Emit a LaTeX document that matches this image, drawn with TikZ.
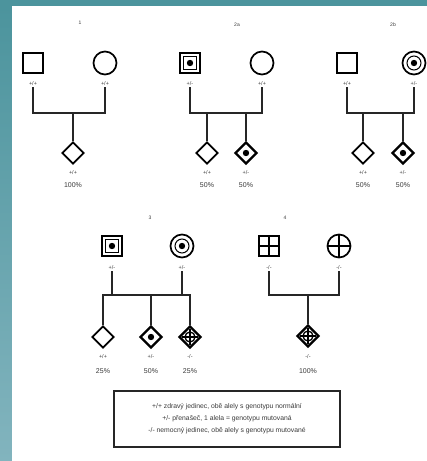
\documentclass[tikz,border=0pt]{standalone}
\usepackage{fontspec}
\setmainfont{Liberation Sans}
\usetikzlibrary{shapes.geometric}
\definecolor{tealbg}{HTML}{4C949D}
\definecolor{tealbot}{HTML}{82B4BE}
\definecolor{txt}{HTML}{3A3A3A}
\tikzset{
  sym/.style={draw=black, line width=1.7pt, fill=white, inner sep=0pt},
  sq/.style={sym, rectangle, minimum size=20pt},
  ci/.style={sym, circle, minimum size=23pt},
  dm/.style={sym, diamond, minimum size=22pt},
  dotc/.style={path picture={\fill[black] (path picture bounding box.center) circle (3.2pt);}},
  carsq/.style={path picture={\draw[line width=1pt] ([shift={(3.5pt,3.5pt)}]path picture bounding box.south west) rectangle ([shift={(-3.5pt,-3.5pt)}]path picture bounding box.north east); \fill[black] (path picture bounding box.center) circle (3.2pt);}},
  carci/.style={path picture={\draw[line width=1pt] (path picture bounding box.center) circle (7pt); \fill[black] (path picture bounding box.center) circle (3.2pt);}},
  crossc/.style={path picture={\draw[line width=1.5pt] (path picture bounding box.north) -- (path picture bounding box.south) (path picture bounding box.west) -- (path picture bounding box.east);}},
  crossd/.style={path picture={\draw[line width=1.5pt] ([yshift=-3pt]path picture bounding box.north) -- ([yshift=3pt]path picture bounding box.south) ([xshift=3pt]path picture bounding box.west) -- ([xshift=-3pt]path picture bounding box.east); \draw[line width=1.3pt] (path picture bounding box.center) circle (5pt);}},
  gt/.style={font=\fontsize{5.5}{6}\selectfont, text=txt, inner sep=1pt},
  pc/.style={font=\fontsize{7}{8}\selectfont, text=txt, inner sep=1pt},
  lbl/.style={font=\fontsize{5}{6}\selectfont, text=txt},
  ln/.style={line width=2pt, black!85},
}
\begin{document}
\begin{tikzpicture}[x=1pt,y=-1pt]
\useasboundingbox (0,0) rectangle (427,461);
\fill[tealbg] (0,0) rectangle (427,461);
\shade[top color=tealbg, bottom color=tealbot] (0,6) rectangle (12,461);
\fill[white] (12,6) rectangle (427,461);

% ---------- panel 1
\node[lbl] (l1) at (80,23) {1};
\node[sq] (p1f) at (33,63) {};
\node[ci] (p1m) at (105,63) {};
\node[gt] (p1fg) at (33,84) {+/+};
\node[gt] (p1mg) at (105,84) {+/+};
\coordinate (p1a) at (33,113);
\coordinate (p1b) at (105,113);
\coordinate (p1c) at (73,113);
\node[dm] (p1k) at (73,153) {};
\node[gt] (p1kg) at (73,173) {+/+};
\node[pc] (p1kp) at (73,185) {100\%};
\draw[ln] (p1fg) -- (p1a) -- (p1b) -- (p1mg);
\draw[ln] (p1c) -- (p1k);

% ---------- panel 2a
\node[lbl] (l2a) at (237,25) {2a};
\node[sq, carsq] (p2f) at (190,63) {};
\node[ci] (p2m) at (262,63) {};
\node[gt] (p2fg) at (190,84) {+/-};
\node[gt] (p2mg) at (262,84) {+/+};
\coordinate (p2a) at (190,113);
\coordinate (p2b) at (262,113);
\coordinate (p2c) at (207,113);
\coordinate (p2d) at (246,113);
\node[dm] (p2k1) at (207,153) {};
\node[dm, dotc, line width=2.3pt] (p2k2) at (246,153) {};
\node[gt] (p2k1g) at (207,173) {+/+};
\node[gt] (p2k2g) at (246,173) {+/-};
\node[pc] (p2k1p) at (207,185) {50\%};
\node[pc] (p2k2p) at (246,185) {50\%};
\draw[ln] (p2fg) -- (p2a) -- (p2b) -- (p2mg);
\draw[ln] (p2c) -- (p2k1);
\draw[ln] (p2d) -- (p2k2);

% ---------- panel 2b
\node[lbl] (l2b) at (393,25) {2b};
\node[sq] (p3f) at (347,63) {};
\node[ci, carci] (p3m) at (414,63) {};
\node[gt] (p3fg) at (347,84) {+/+};
\node[gt] (p3mg) at (414,84) {+/-};
\coordinate (p3a) at (347,113);
\coordinate (p3b) at (414,113);
\coordinate (p3c) at (363,113);
\coordinate (p3d) at (403,113);
\node[dm] (p3k1) at (363,153) {};
\node[dm, dotc, line width=2.3pt] (p3k2) at (403,153) {};
\node[gt] (p3k1g) at (363,173) {+/+};
\node[gt] (p3k2g) at (403,173) {+/-};
\node[pc] (p3k1p) at (363,185) {50\%};
\node[pc] (p3k2p) at (403,185) {50\%};
\draw[ln] (p3fg) -- (p3a) -- (p3b) -- (p3mg);
\draw[ln] (p3c) -- (p3k1);
\draw[ln] (p3d) -- (p3k2);

% ---------- panel 3
\node[lbl] (l3) at (150,218) {3};
\node[sq, carsq] (p4f) at (112,246) {};
\node[ci, carci] (p4m) at (182,246) {};
\node[gt] (p4fg) at (112,268) {+/-};
\node[gt] (p4mg) at (182,268) {+/-};
\coordinate (p4a) at (112,295);
\coordinate (p4b) at (182,295);
\coordinate (p4l) at (103,295);
\coordinate (p4c) at (151,295);
\coordinate (p4r) at (190,295);
\node[dm] (p4k1) at (103,337) {};
\node[dm, dotc, line width=2.3pt] (p4k2) at (151,337) {};
\node[dm, crossd, line width=2.3pt] (p4k3) at (190,337) {};
\node[gt] (p4k1g) at (103,357) {+/+};
\node[gt] (p4k2g) at (151,357) {+/-};
\node[gt] (p4k3g) at (190,357) {-/-};
\node[pc] (p4k1p) at (103,371) {25\%};
\node[pc] (p4k2p) at (151,371) {50\%};
\node[pc] (p4k3p) at (190,371) {25\%};
\draw[ln] (p4fg) -- (p4a);
\draw[ln] (p4mg) -- (p4b);
\draw[ln] (p4k1) -- (p4l) -- (p4r) -- (p4k3);
\draw[ln] (p4c) -- (p4k2);

% ---------- panel 4
\node[lbl] (l4) at (285,218) {4};
\node[sq, crossc] (p5f) at (269,246) {};
\node[ci, crossc] (p5m) at (339,246) {};
\node[gt] (p5fg) at (269,268) {-/-};
\node[gt] (p5mg) at (339,268) {-/-};
\coordinate (p5a) at (269,295);
\coordinate (p5b) at (339,295);
\coordinate (p5c) at (308,295);
\node[dm, crossd, line width=2.3pt] (p5k) at (308,336) {};
\node[gt] (p5kg) at (308,357) {-/-};
\node[pc] (p5kp) at (308,371) {100\%};
\draw[ln] (p5fg) -- (p5a) -- (p5b) -- (p5mg);
\draw[ln] (p5c) -- (p5k);

% ---------- legend
\node[draw=black!85, line width=2pt,
      minimum width=226pt, minimum height=56pt, align=center,
      font=\fontsize{6.8}{12}\selectfont, text=txt] (leg) at (227,419)
  {+/+ zdravý jedinec, obě alely s genotypu normální\\
   +/- přenašeč, 1 alela = genotypu mutovaná\\
   -/- nemocný jedinec, obě alely s genotypu mutované};
\end{tikzpicture}
\end{document}
